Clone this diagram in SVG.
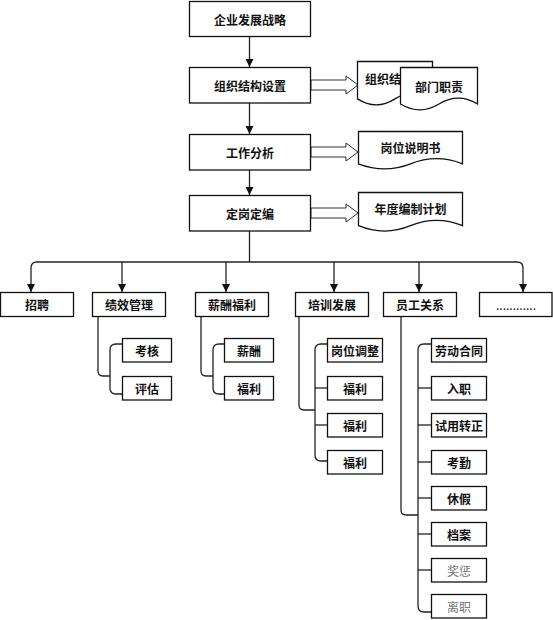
<svg xmlns="http://www.w3.org/2000/svg" width="553" height="620" viewBox="0 0 553 620">
<defs>
<marker id="ah" markerUnits="userSpaceOnUse" markerWidth="9" markerHeight="9" refX="8" refY="4.5" orient="auto">
<path d="M0,0.5 L8,4.5 L0,8.5 z" fill="#111"/>
</marker>
</defs>
<style>
.b{fill:#fff;stroke:#111;stroke-width:1.3}
.t{font-family:"Noto Sans CJK SC","Noto Sans",sans-serif;font-size:12px;font-weight:bold;fill:#111;text-anchor:middle;dominant-baseline:central}
.g{font-weight:normal;fill:#777}
.c{fill:none;stroke:#222;stroke-width:1.3}
.ca{fill:none;stroke:#222;stroke-width:1.3;marker-end:url(#ah)}
.fa{fill:#fff;stroke:#333;stroke-width:1}
</style>
<rect width="553" height="620" fill="#fff"/>
<g id="connectors">
<line class="ca" x1="249.5" y1="36" x2="249.5" y2="67"/>
<line class="ca" x1="249.5" y1="103" x2="249.5" y2="134"/>
<line class="ca" x1="249.5" y1="170" x2="249.5" y2="195"/>
<line class="c" x1="249.5" y1="231" x2="249.5" y2="262"/>
<path class="ca" d="M37,262 Q31,262 31,268 V292"/>
<path class="ca" d="M517,262 Q523,262 523,268 V292"/>
<line class="c" x1="37" y1="262" x2="517" y2="262"/>
<line class="ca" x1="122" y1="262" x2="122" y2="292"/>
<line class="ca" x1="226" y1="262" x2="226" y2="292"/>
<line class="ca" x1="334" y1="262" x2="334" y2="292"/>
<line class="ca" x1="419" y1="262" x2="419" y2="292"/>
<polygon class="fa" points="311,80 346,80 346,76 358,85 346,94 346,90 311,90"/>
<polygon class="fa" points="311,147 346,147 346,143 358,152 346,161 346,157 311,157"/>
<polygon class="fa" points="311,208 346,208 346,204 358,213 346,222 346,218 311,218"/>
<path class="c" d="M98,316 V371 Q98,376 103,376 H110"/>
<path class="c" d="M122,344 H116 Q110,344 110,350 V388 Q110,394 116,394 H122"/>
<path class="c" d="M201,316 V371 Q201,376 206,376 H213"/>
<path class="c" d="M224,344 H219 Q213,344 213,350 V388 Q213,394 219,394 H224"/>
<path class="c" d="M299,316 V405 Q299,410 304,410 H315"/>
<path class="c" d="M327,344 H321 Q315,344 315,350 V455 Q315,461 321,461 H327"/>
<line class="c" x1="315" y1="388" x2="327" y2="388"/>
<line class="c" x1="315" y1="425" x2="327" y2="425"/>
<path class="c" d="M401,316 V510 Q401,515 406,515 H418"/>
<path class="c" d="M431,344 H424 Q418,344 418,350 V606 Q418,612 424,612 H431"/>
<line class="c" x1="418" y1="388" x2="431" y2="388"/>
<line class="c" x1="418" y1="425" x2="431" y2="425"/>
<line class="c" x1="418" y1="462" x2="431" y2="462"/>
<line class="c" x1="418" y1="498" x2="431" y2="498"/>
<line class="c" x1="418" y1="534" x2="431" y2="534"/>
<line class="c" x1="418" y1="570" x2="431" y2="570"/>
</g>
<g id="n-strategy"><rect class="b" x="189.5" y="1.5" width="121" height="35"/><text class="t" x="250" y="19">企业发展战略</text></g>
<g id="n-org"><rect class="b" x="189.5" y="67.5" width="121" height="35.5"/><text class="t" x="250" y="85">组织结构设置</text></g>
<g id="n-job"><rect class="b" x="189.5" y="134.5" width="121" height="35.5"/><text class="t" x="250" y="152">工作分析</text></g>
<g id="n-post"><rect class="b" x="189.5" y="195.5" width="121" height="35.5"/><text class="t" x="250" y="213">定岗定编</text></g>
<g id="d-orgchart"><path class="b" d="M357.5,61.5 H432.5 V98.9 Q413.75,87 395,98.9 Q376.25,110.8 357.5,98.9 Z"/><text class="t" x="365" y="78" style="text-anchor:start">组织结</text></g>
<g id="d-dept"><path class="b" d="M400.5,67.5 H477.5 V104 Q458.25,92.4 439,104 Q419.75,115.7 400.5,104 Z"/><text class="t" x="439" y="86">部门职责</text></g>
<g id="d-jd"><path class="b" d="M358.5,131.5 H462.5 V163.8 Q436.5,153.5 410.5,163.8 Q384.5,174 358.5,163.8 Z"/><text class="t" x="410.5" y="147.5">岗位说明书</text></g>
<g id="d-plan"><path class="b" d="M358.5,192.5 H462.5 V225.7 Q436.5,215.1 410.5,225.7 Q384.5,236.4 358.5,225.7 Z"/><text class="t" x="410.5" y="208">年度编制计划</text></g>
<g id="n-recruit"><rect class="b" x="0.5" y="292.5" width="73" height="24"/><text class="t" x="37" y="304.5">招聘</text></g>
<g id="n-perf"><rect class="b" x="92.5" y="292.5" width="73" height="24"/><text class="t" x="129" y="304.5">绩效管理</text></g>
<g id="n-pay"><rect class="b" x="195.5" y="292.5" width="73" height="24"/><text class="t" x="232" y="304.5">薪酬福利</text></g>
<g id="n-train"><rect class="b" x="295.5" y="292.5" width="73" height="24"/><text class="t" x="332" y="304.5">培训发展</text></g>
<g id="n-rel"><rect class="b" x="383.5" y="292.5" width="73" height="24"/><text class="t" x="420" y="304.5">员工关系</text></g>
<g id="n-more"><rect class="b" x="479.5" y="292.5" width="72.5" height="24"/><text class="t" x="516" y="304.5" style="font-weight:normal">............</text></g>
<g id="n-kh"><rect class="b" x="122.5" y="338.5" width="49" height="23.5"/><text class="t" x="147" y="350">考核</text></g>
<g id="n-pg"><rect class="b" x="122.5" y="376.5" width="49" height="23.5"/><text class="t" x="147" y="388">评估</text></g>
<g id="n-xc"><rect class="b" x="224.5" y="338.5" width="49" height="23.5"/><text class="t" x="249" y="350">薪酬</text></g>
<g id="n-fl"><rect class="b" x="224.5" y="376.5" width="49" height="23.5"/><text class="t" x="249" y="388">福利</text></g>
<g id="n-gwtz"><rect class="b" x="327.5" y="338.5" width="55" height="23.5"/><text class="t" x="355" y="350">岗位调整</text></g>
<g id="n-fl2"><rect class="b" x="327.5" y="376.5" width="55" height="23.5"/><text class="t" x="355" y="388">福利</text></g>
<g id="n-fl3"><rect class="b" x="327.5" y="413.5" width="55" height="23.5"/><text class="t" x="355" y="425">福利</text></g>
<g id="n-fl4"><rect class="b" x="327.5" y="450.5" width="55" height="23.5"/><text class="t" x="355" y="462">福利</text></g>
<g id="n-ldht"><rect class="b" x="431.5" y="338.5" width="55" height="23.5"/><text class="t" x="459" y="350">劳动合同</text></g>
<g id="n-rz"><rect class="b" x="431.5" y="376.5" width="55" height="23.5"/><text class="t" x="459" y="388">入职</text></g>
<g id="n-syzz"><rect class="b" x="431.5" y="413.5" width="55" height="23.5"/><text class="t" x="459" y="425">试用转正</text></g>
<g id="n-kq"><rect class="b" x="431.5" y="450.5" width="55" height="23.5"/><text class="t" x="459" y="462">考勤</text></g>
<g id="n-xj"><rect class="b" x="431.5" y="486.5" width="55" height="23.5"/><text class="t" x="459" y="498">休假</text></g>
<g id="n-da"><rect class="b" x="431.5" y="522.5" width="55" height="23.5"/><text class="t" x="459" y="534">档案</text></g>
<g id="n-jc"><rect class="b" x="431.5" y="558.5" width="55" height="23.5"/><text class="t g" x="459" y="570">奖惩</text></g>
<g id="n-lz"><rect class="b" x="431.5" y="594.5" width="55" height="23.5"/><text class="t g" x="459" y="606">离职</text></g>
</svg>
